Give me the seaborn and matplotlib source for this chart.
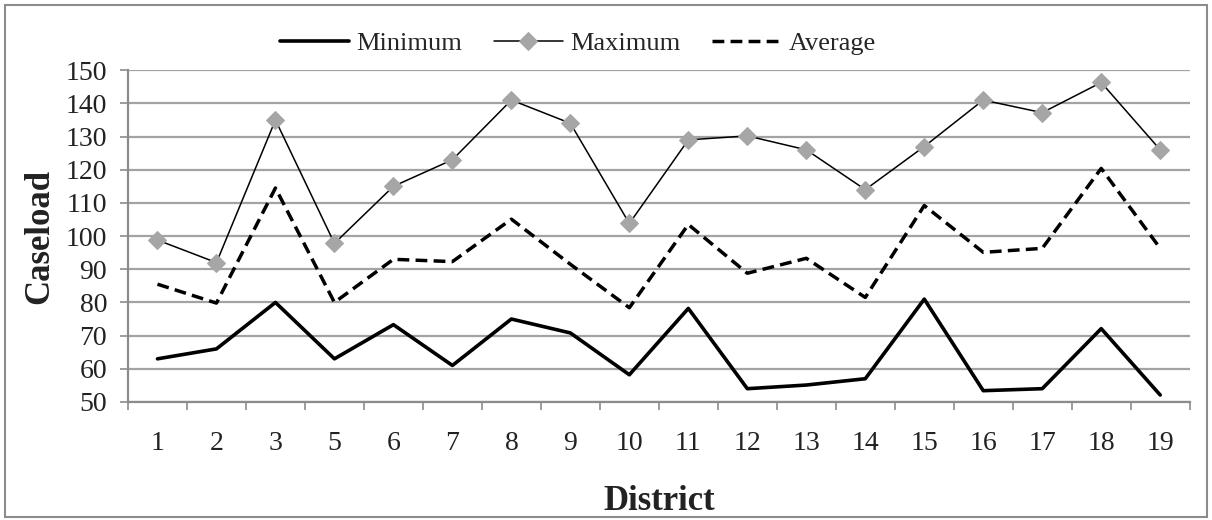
import matplotlib
matplotlib.use('Agg')
import pandas as pd
import numpy as np
import matplotlib.pyplot as plt
import seaborn as sns

# data
districts = ["1", "2", "3", "5", "6", "7", "8", "9", "10", "11",
             "12", "13", "14", "15", "16", "17", "18", "19"]
minimum = [63, 66, 80, 63, 73.3, 61, 75, 70.8, 58.2, 78.2,
           54, 55.1, 57, 81, 53.4, 54, 72.1, 52.1]
maximum = [98.8, 92, 135, 97.8, 115, 123, 141, 134, 103.8, 129,
           130.2, 126, 114, 127, 141, 137.2, 146.3, 126]
average = [85.5, 79.8, 114.5, 80, 93, 92.3, 105.1, 91.5, 78.4, 103.5,
           88.8, 93.3, 81.5, 109.2, 95.1, 96.3, 120.4, 96.3]

sns.set_theme(style="white")
plt.rcParams['font.family'] = ['Liberation Serif', 'DejaVu Serif']

df = pd.DataFrame({"District": districts, "Minimum": minimum,
                   "Maximum": maximum, "Average": average})
df["pos"] = np.arange(len(df))

GRID = "#a3a3a3"
AXC = "#8c8c8c"
TXT = "#222222"

fig = plt.figure(figsize=(12.12, 5.2), dpi=100)
ax = fig.add_axes([0.1056, 0.227, 0.876, 0.638])

sns.lineplot(data=df, x="pos", y="Minimum", ax=ax, color="black", lw=2.6,
             label="Minimum", zorder=3)
sns.lineplot(data=df, x="pos", y="Maximum", ax=ax, color="black", lw=1.1,
             marker="D", markersize=9, markerfacecolor="#a6a6a6",
             markeredgecolor="#a6a6a6", label="Maximum", zorder=4)
sns.lineplot(data=df, x="pos", y="Average", ax=ax, color="black", lw=2.5,
             dashes=(3.4, 1.8), label="Average", zorder=3)

ax.set_ylim(50, 150)
ax.set_yticks(range(50, 151, 10))
ax.set_xlim(-0.5, len(df) - 0.5)
ax.set_xticks(np.arange(-0.5, len(df)), labels=[])
ax.set_xticks(df["pos"], labels=df["District"], minor=True)
ax.tick_params(axis="x", which="major", direction="out", length=6,
               width=1.2, color=AXC, bottom=True)
ax.tick_params(axis="x", which="minor", length=0, pad=21, labelsize=20,
               labelcolor=TXT)
ax.tick_params(axis="y", direction="out", length=6, width=1.2, color=AXC,
               left=True, pad=9, labelsize=20, labelcolor=TXT)

ax.grid(axis="y", color=GRID, lw=1.6)
ax.grid(axis="x", visible=False)
for s in ["top", "right"]:
    ax.spines[s].set_visible(False)
for s in ["left", "bottom"]:
    ax.spines[s].set_color(AXC)
    ax.spines[s].set_linewidth(1.6)

ax.set_xlabel("District", fontsize=25, fontweight="bold", color=TXT)
ax.set_ylabel("Caseload", fontsize=25, fontweight="bold", color=TXT)
ax.xaxis.set_label_coords(0.5, -0.25)
ax.yaxis.set_label_coords(-0.068, 0.5)

ax.legend(loc="center", bbox_to_anchor=(0.477, 0.917),
          bbox_transform=fig.transFigure, ncol=3, frameon=False,
          fontsize=19, handlelength=2.6, columnspacing=1.2,
          handletextpad=0.3)

# outer chart border
fig.add_artist(plt.Rectangle((0.004, 0.006), 0.992, 0.984, fill=False,
                             edgecolor=AXC, lw=1.5, transform=fig.transFigure))

fig.savefig("out.png", dpi=100)
